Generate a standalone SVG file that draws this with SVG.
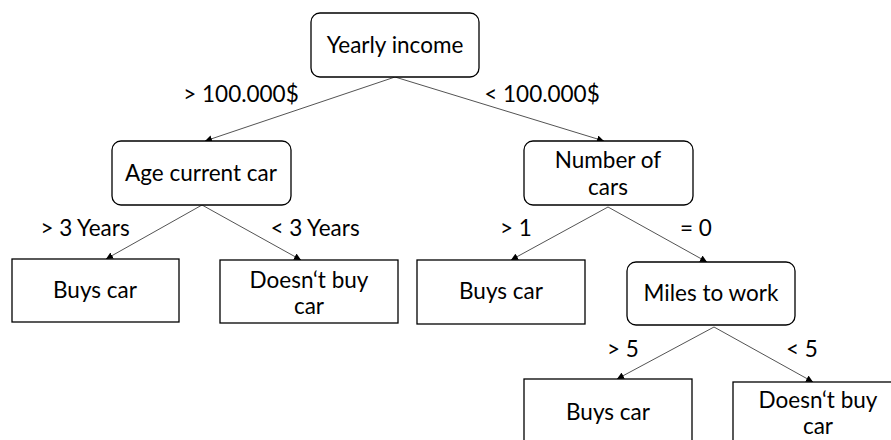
<svg xmlns="http://www.w3.org/2000/svg" width="891" height="440" viewBox="0 0 891 440">
  <style>
    .box { fill: #ffffff; stroke: #000000; stroke-width: 1.3; }
    .edge { fill: none; stroke: #404040; stroke-width: 0.9; marker-end: url(#arrow); }
    text { font-family: Lato, "Liberation Sans", Arial, sans-serif; font-size: 22.5px; fill: #000000; text-anchor: middle; }
  </style>
  <defs>
    <marker id="arrow" viewBox="0 0 10 10" refX="10" refY="5" markerWidth="7" markerHeight="7" markerUnits="userSpaceOnUse" orient="auto">
      <path d="M0,0 L10,5 L0,10 Z" fill="#000000"/>
    </marker>
  </defs>
  <rect width="891" height="440" fill="#ffffff"/>

  <g id="connectors">
    <line class="edge" x1="395" y1="77" x2="205" y2="141"/>
    <line class="edge" x1="395" y1="77" x2="604" y2="141"/>
    <line class="edge" x1="202" y1="205" x2="106" y2="259"/>
    <line class="edge" x1="202" y1="205" x2="301" y2="260"/>
    <line class="edge" x1="608" y1="207" x2="511" y2="260"/>
    <line class="edge" x1="608" y1="207" x2="707" y2="262"/>
    <line class="edge" x1="714" y1="327" x2="617" y2="379"/>
    <line class="edge" x1="714" y1="327" x2="813" y2="382"/>
  </g>

  <g id="edge-labels">
    <text x="241" y="102">&gt; 100.000$</text>
    <text x="542" y="102">&lt; 100.000$</text>
    <text x="85" y="236">&gt; 3 Years</text>
    <text x="315" y="236">&lt; 3 Years</text>
    <text x="516" y="236">&gt; 1</text>
    <text x="696" y="236">= 0</text>
    <text x="623" y="357">&gt; 5</text>
    <text x="802" y="357">&lt; 5</text>
  </g>

  <g id="yearly-income">
    <rect class="box" x="311" y="13" width="168" height="64" rx="9"/>
    <text x="395" y="53">Yearly income</text>
  </g>

  <g id="age-current-car">
    <rect class="box" x="112" y="141" width="179" height="64" rx="9"/>
    <text x="201" y="181">Age current car</text>
  </g>

  <g id="number-of-cars">
    <rect class="box" x="524" y="141" width="169" height="64" rx="9"/>
    <text x="608" y="168">Number of</text>
    <text x="608" y="195">cars</text>
  </g>

  <g id="buys-car-1">
    <rect class="box" x="12" y="259" width="167" height="63"/>
    <text x="95" y="298">Buys car</text>
  </g>

  <g id="doesnt-buy-car-1">
    <rect class="box" x="220" y="260" width="178" height="63"/>
    <text x="309" y="288">Doesn‘t buy</text>
    <text x="309" y="314">car</text>
  </g>

  <g id="buys-car-2">
    <rect class="box" x="417" y="260" width="168" height="64"/>
    <text x="501" y="299">Buys car</text>
  </g>

  <g id="miles-to-work">
    <rect class="box" x="627" y="262" width="168" height="63" rx="9"/>
    <text x="711" y="301">Miles to work</text>
  </g>

  <g id="buys-car-3">
    <rect class="box" x="524" y="379" width="168" height="70"/>
    <text x="608" y="420">Buys car</text>
  </g>

  <g id="doesnt-buy-car-2">
    <rect class="box" x="733" y="382" width="170" height="70"/>
    <text x="818" y="408">Doesn‘t buy</text>
    <text x="818" y="434">car</text>
  </g>
</svg>
